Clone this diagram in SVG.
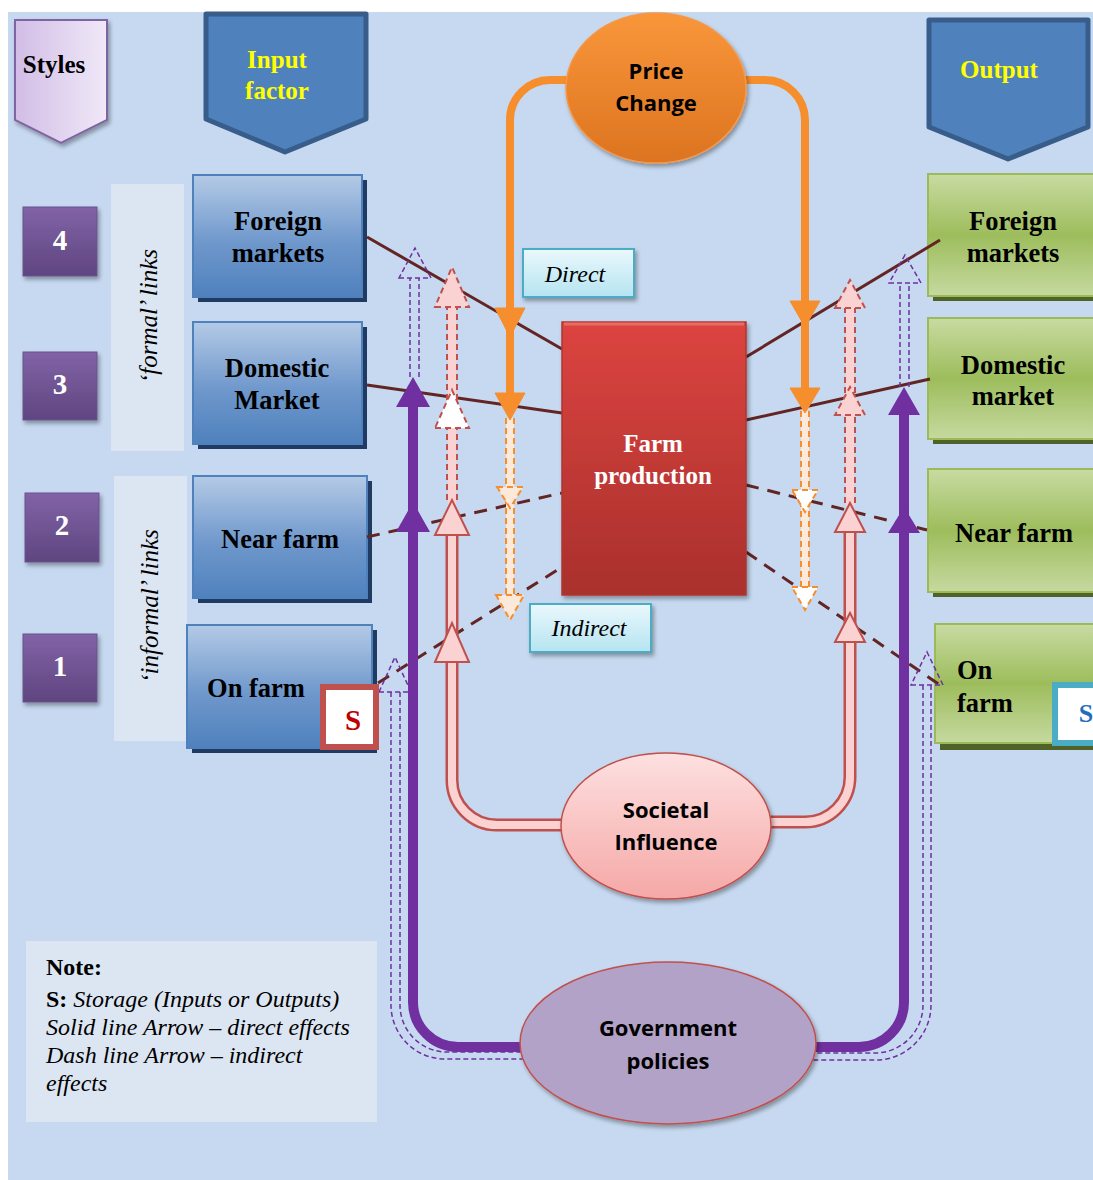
<svg xmlns="http://www.w3.org/2000/svg" width="1093" height="1180" viewBox="0 0 1093 1180">
  <defs>
    <linearGradient id="gStyles" x1="0" y1="0" x2="1" y2="0">
      <stop offset="0" stop-color="#d2bde6"/>
      <stop offset="1" stop-color="#f0e9f8"/>
    </linearGradient>
    <linearGradient id="gBlue" x1="0" y1="0" x2="0" y2="1">
      <stop offset="0" stop-color="#b4cae6"/>
      <stop offset="0.55" stop-color="#6f98cc"/>
      <stop offset="1" stop-color="#4f81bd"/>
    </linearGradient>
    <linearGradient id="gGreen" x1="0" y1="0" x2="0" y2="1">
      <stop offset="0" stop-color="#c8dba2"/>
      <stop offset="0.5" stop-color="#9dbd5c"/>
      <stop offset="1" stop-color="#c6d9a0"/>
    </linearGradient>
    <linearGradient id="gFarm" x1="0" y1="0" x2="0" y2="1">
      <stop offset="0" stop-color="#dc4440"/>
      <stop offset="1" stop-color="#a9302c"/>
    </linearGradient>
    <linearGradient id="gPrice" x1="0" y1="0" x2="0" y2="1">
      <stop offset="0" stop-color="#f9963a"/>
      <stop offset="1" stop-color="#dc7420"/>
    </linearGradient>
    <linearGradient id="gSoc" x1="0" y1="0" x2="0" y2="1">
      <stop offset="0" stop-color="#fde0e0"/>
      <stop offset="1" stop-color="#f5a8a6"/>
    </linearGradient>
    <linearGradient id="gNum" x1="0" y1="0" x2="0" y2="1">
      <stop offset="0" stop-color="#8163a6"/>
      <stop offset="1" stop-color="#5f4580"/>
    </linearGradient>
    <linearGradient id="gLabel" x1="0" y1="0" x2="0" y2="1">
      <stop offset="0" stop-color="#eaf8fc"/>
      <stop offset="1" stop-color="#b5e4f1"/>
    </linearGradient>
    <filter id="shadow" x="-20%" y="-20%" width="140%" height="140%">
      <feDropShadow dx="2" dy="3" stdDeviation="2" flood-color="#000" flood-opacity="0.35"/>
    </filter>
    <style>
      .serif { font-family: "Liberation Serif", "Times New Roman", serif; }
      .sans { font-family: "Open Sans", "Liberation Sans", sans-serif; font-weight: 700; }
      .lbl { font-family: "Liberation Serif", serif; font-weight: 700; font-size: 26.5px; fill: #000; text-anchor: middle; }
      .lbl.start { text-anchor: start; }
      .num { font-family: "Liberation Serif", serif; font-weight: 700; font-size: 29px; fill: #fff; text-anchor: middle; }
      .head { font-family: "Liberation Serif", serif; font-weight: 700; font-size: 25px; fill: #ffff00; text-anchor: middle; }
      .ital { font-family: "Liberation Serif", serif; font-style: italic; font-size: 24px; fill: #000; }
      .mid { text-anchor: middle; }
      .blueBox { fill: url(#gBlue); stroke: #4f81bd; stroke-width: 2; }
      .blueShade { fill: #1f3b64; }
      .greenBox { fill: url(#gGreen); stroke: #9bbb59; stroke-width: 2; }
      .greenShade { fill: #4f6228; }
      .numBox { fill: url(#gNum); stroke: #6a5290; stroke-width: 1; }
      .panel { fill: #dce6f2; }
      .tag { fill: url(#gLabel); stroke: #4bacc6; stroke-width: 2; }
      .brown { fill: none; stroke: #632523; stroke-width: 3; }
      .dashed { stroke-dasharray: 13 9; }
      .orange { fill: none; stroke: #f68e2e; stroke-width: 8; }
      .orangeHead { fill: #f68e2e; stroke: #f68e2e; stroke-width: 1; }
      .orangeFill { fill: none; stroke: #fde9d9; stroke-width: 8; }
      .orangeEdge { fill: none; stroke: #f68e2e; stroke-width: 2; stroke-dasharray: 6 4; }
      .orangeDHead { fill: #fde9d9; stroke: #f68e2e; stroke-width: 2; stroke-dasharray: 6 4; }
      .orangeDHead.white { fill: #ffffff; }
      .pinkOut { fill: none; stroke: #c0504d; stroke-width: 13; }
      .pinkIn { fill: none; stroke: #f9d2d1; stroke-width: 8; }
      .pinkHead { fill: #f9d2d1; stroke: #c0504d; stroke-width: 2; }
      .pinkEdge { fill: none; stroke: #c0504d; stroke-width: 2; stroke-dasharray: 6 4; }
      .pinkDHead { fill: #f9d2d1; stroke: #c0504d; stroke-width: 2; stroke-dasharray: 6 4; }
      .pinkDHead.white { fill: #ffffff; }
      .purple { fill: none; stroke: #7030a0; stroke-width: 10; }
      .purpleHead { fill: #7030a0; }
      .purpleD { fill: none; stroke: #7030a0; stroke-width: 1.5; stroke-dasharray: 5 3; }
    </style>
  </defs>

  <!-- page background -->
  <rect x="0" y="0" width="1093" height="1180" fill="#ffffff"/>
  <rect x="8" y="12" width="1085" height="1168" fill="#c6d9f0"/>

  <!-- side panels for the link types -->
  <g id="formal-links">
    <rect class="panel" x="111" y="184" width="73" height="267"/>
    <text class="ital mid" transform="translate(157 316) rotate(-90)" style="font-size:25px">‘formal’ links</text>
  </g>
  <g id="informal-links">
    <rect class="panel" x="114" y="476" width="73" height="265"/>
    <text class="ital mid" transform="translate(158 606) rotate(-90)" style="font-size:25px">‘informal’ links</text>
  </g>

  <!-- headers -->
  <g id="styles">
    <polygon points="15,20 107,20 107,120 61,143 15,120" fill="url(#gStyles)" stroke="#8064a2" stroke-width="2" filter="url(#shadow)"/>
    <text class="serif" x="54" y="73" font-size="25" font-weight="700" text-anchor="middle">Styles</text>
  </g>
  <g id="input-factor">
    <polygon points="206,14 366,14 366,119 285,152 206,119" fill="#4f81bd" stroke="#385d8a" stroke-width="5" stroke-linejoin="round"/>
    <text class="head" x="277" y="68">Input</text>
    <text class="head" x="277" y="99">factor</text>
  </g>
  <g id="output">
    <polygon points="929,20 1088,20 1088,127 1008,159 929,127" fill="#4f81bd" stroke="#385d8a" stroke-width="5" stroke-linejoin="round"/>
    <text class="head" x="999" y="78">Output</text>
  </g>

  <!-- level numbers -->
  <g id="level-4"><rect class="numBox" x="23" y="207" width="74" height="69" filter="url(#shadow)"/><text class="num" x="60" y="250">4</text></g>
  <g id="level-3"><rect class="numBox" x="23" y="352" width="74" height="68" filter="url(#shadow)"/><text class="num" x="60" y="394">3</text></g>
  <g id="level-2"><rect class="numBox" x="25" y="493" width="74" height="69" filter="url(#shadow)"/><text class="num" x="62" y="535">2</text></g>
  <g id="level-1"><rect class="numBox" x="23" y="634" width="74" height="68" filter="url(#shadow)"/><text class="num" x="60" y="676">1</text></g>

  <!-- input boxes -->
  <g id="in-foreign">
    <rect class="blueShade" x="198" y="180" width="169" height="122"/>
    <rect class="blueBox" x="193" y="175" width="169" height="122"/>
    <text class="lbl" x="278" y="230">Foreign</text>
    <text class="lbl" x="278" y="262">markets</text>
  </g>
  <g id="in-domestic">
    <rect class="blueShade" x="198" y="327" width="169" height="122"/>
    <rect class="blueBox" x="193" y="322" width="169" height="122"/>
    <text class="lbl" x="277" y="377">Domestic</text>
    <text class="lbl" x="277" y="409">Market</text>
  </g>
  <g id="in-near-farm">
    <rect class="blueShade" x="198" y="481" width="174" height="122"/>
    <rect class="blueBox" x="193" y="476" width="174" height="122"/>
    <text class="lbl" x="280" y="548">Near farm</text>
  </g>
  <g id="in-on-farm">
    <rect class="blueShade" x="192" y="630" width="185" height="123"/>
    <rect class="blueBox" x="187" y="625" width="185" height="123"/>
    <text class="lbl" x="256" y="697">On farm</text>
  </g>

  <!-- output boxes -->
  <g id="out-foreign">
    <rect class="greenShade" x="933" y="179" width="165" height="122"/>
    <rect class="greenBox" x="928" y="174" width="170" height="122"/>
    <text class="lbl" x="1013" y="230">Foreign</text>
    <text class="lbl" x="1013" y="262">markets</text>
  </g>
  <g id="out-domestic">
    <rect class="greenShade" x="933" y="323" width="165" height="121"/>
    <rect class="greenBox" x="928" y="318" width="170" height="121"/>
    <text class="lbl" x="1013" y="374">Domestic</text>
    <text class="lbl" x="1013" y="405">market</text>
  </g>
  <g id="out-near-farm">
    <rect class="greenShade" x="933" y="474" width="165" height="123"/>
    <rect class="greenBox" x="928" y="469" width="170" height="123"/>
    <text class="lbl" x="1014" y="542">Near farm</text>
  </g>
  <g id="out-on-farm">
    <rect class="greenShade" x="940" y="630" width="158" height="120"/>
    <rect class="greenBox" x="935" y="624" width="163" height="119"/>
    <text class="lbl start" x="957" y="679">On</text>
    <text class="lbl start" x="957" y="712">farm</text>
  </g>

  <!-- connectors -->
  <g id="connectors">
    <!-- links between market levels and farm production -->
    <path class="brown" d="M367 237 L562 349"/>
    <path class="brown" d="M367 385 L562 413"/>
    <path class="brown dashed" d="M367 537 L562 493"/>
    <path class="brown dashed" d="M378 683 L562 567"/>
    <path class="brown" d="M746 357 L940 240"/>
    <path class="brown" d="M746 420 L930 379"/>
    <path class="brown dashed" d="M746 485 L927 530"/>
    <path class="brown dashed" d="M746 552 L940 685"/>

    <!-- government policies: outer dashed loops -->
    <path class="purpleD" d="M391 692 V1005 A54 54 0 0 0 445 1059 H525"/>
    <path class="purpleD" d="M400 692 V1005 A47 47 0 0 0 447 1052 H525"/>
    <path class="purpleD" d="M923 685 V1005 A48 48 0 0 1 875 1053 H810"/>
    <path class="purpleD" d="M931 685 V1005 A55 55 0 0 1 876 1060 H810"/>
    <polygon class="purpleD" points="379,692 411,692 395,657"/>
    <polygon class="purpleD" points="911,685 943,685 927,652"/>

    <!-- government policies: solid loops -->
    <path class="purple" d="M560 1047 H458 A45 45 0 0 1 413 1002 V407"/>
    <path class="purple" d="M780 1047 H859 A45 45 0 0 0 904 1002 V415"/>
    <polygon class="purpleHead" points="396,532 430,532 413,502"/>
    <polygon class="purpleHead" points="396,407 430,407 413,377"/>
    <polygon class="purpleHead" points="888,533 920,533 904,507"/>
    <polygon class="purpleHead" points="888,415 920,415 904,387"/>
    <path class="purpleD" d="M410 377 V278 M419 377 V278"/>
    <polygon class="purpleD" points="399,278 431,278 415,248"/>
    <path class="purpleD" d="M900 387 V283 M909 387 V283"/>
    <polygon class="purpleD" points="889,283 921,283 905,255"/>

    <!-- societal influence loops -->
    <path class="pinkOut" d="M600 825 H497 A45 45 0 0 1 452 780 V535"/>
    <path class="pinkIn" d="M600 825 H497 A45 45 0 0 1 452 780 V535"/>
    <path class="pinkOut" d="M720 822 H805 A45 45 0 0 0 850 777 V532"/>
    <path class="pinkIn" d="M720 822 H805 A45 45 0 0 0 850 777 V532"/>
    <rect x="448" y="305" width="8" height="200" fill="#f9d2d1"/>
    <path class="pinkEdge" d="M447 500 V305 M457 500 V305"/>
    <rect x="846" y="306" width="8" height="200" fill="#f9d2d1"/>
    <path class="pinkEdge" d="M845 503 V306 M855 503 V306"/>
    <polygon class="pinkHead" points="435,662 469,662 452,623"/>
    <polygon class="pinkHead" points="435,535 469,535 452,500"/>
    <polygon class="pinkDHead white" points="435,428 469,428 452,390"/>
    <polygon class="pinkDHead" points="435,307 469,307 452,267"/>
    <polygon class="pinkHead" points="835,642 865,642 850,613"/>
    <polygon class="pinkHead" points="835,532 865,532 850,503"/>
    <polygon class="pinkDHead" points="835,415 865,415 850,387"/>
    <polygon class="pinkDHead" points="835,308 865,308 850,280"/>

    <!-- price change loops -->
    <path class="orange" d="M600 80 H550 A40 40 0 0 0 510 120 V395"/>
    <path class="orange" d="M710 80 H765 A40 40 0 0 1 805 120 V390"/>
    <path class="orangeFill" d="M510 418 V598"/>
    <path class="orangeEdge" d="M506 418 V598 M514 418 V598"/>
    <path class="orangeFill" d="M805 411 V590"/>
    <path class="orangeEdge" d="M801 411 V590 M809 411 V590"/>
    <polygon class="orangeHead" points="495,308 525,308 510,337"/>
    <polygon class="orangeHead" points="495,393 525,393 510,420"/>
    <polygon class="orangeHead" points="790,301 820,301 805,327"/>
    <polygon class="orangeHead" points="790,388 820,388 805,413"/>
    <polygon class="orangeDHead" points="497,487 523,487 510,508"/>
    <polygon class="orangeDHead" points="496,595 524,595 510,620"/>
    <polygon class="orangeDHead white" points="792,490 818,490 805,512"/>
    <polygon class="orangeDHead white" points="792,587 818,587 805,610"/>
  </g>

  <!-- storage markers -->
  <g id="storage-in">
    <rect x="323" y="687" width="53" height="60" fill="#ffffff" stroke="#c0504d" stroke-width="6"/>
    <text class="serif" x="353" y="730" font-size="29" font-weight="700" fill="#c00000" text-anchor="middle">S</text>
  </g>
  <g id="storage-out">
    <rect x="1055" y="685" width="45" height="58" fill="#ffffff" stroke="#4bacc6" stroke-width="6"/>
    <text class="serif" x="1086" y="722" font-size="26" font-weight="700" fill="#1f6fbf" text-anchor="middle">S</text>
  </g>

  <!-- central nodes -->
  <g id="price-change">
    <ellipse cx="656" cy="88" rx="90" ry="75" fill="url(#gPrice)" stroke="#f79646" stroke-width="1.5" filter="url(#shadow)"/>
    <text class="sans" x="656" y="79" font-size="22" text-anchor="middle">Price</text>
    <text class="sans" x="656" y="111" font-size="22" text-anchor="middle">Change</text>
  </g>
  <g id="farm-production">
    <rect x="562" y="322" width="184" height="273" fill="url(#gFarm)" stroke="#b03430" stroke-width="1.5" filter="url(#shadow)"/>
    <path d="M564 324 H744" stroke="#ea6a66" stroke-width="3"/>
    <text class="serif" x="653" y="452" font-size="25" font-weight="700" fill="#ffffff" text-anchor="middle">Farm</text>
    <text class="serif" x="653" y="484" font-size="25" font-weight="700" fill="#ffffff" text-anchor="middle">production</text>
  </g>
  <g id="societal-influence">
    <ellipse cx="666" cy="826" rx="105" ry="73" fill="url(#gSoc)" stroke="#c0504d" stroke-width="1.5" filter="url(#shadow)"/>
    <text class="sans" x="666" y="818" font-size="22" text-anchor="middle">Societal</text>
    <text class="sans" x="666" y="850" font-size="22" text-anchor="middle">Influence</text>
  </g>
  <g id="government-policies">
    <ellipse cx="668" cy="1043" rx="148" ry="81" fill="#b3a2c7" stroke="#c0504d" stroke-width="1.5" filter="url(#shadow)"/>
    <text class="sans" x="668" y="1036" font-size="22" text-anchor="middle">Government</text>
    <text class="sans" x="668" y="1069" font-size="22" text-anchor="middle">policies</text>
  </g>

  <!-- effect type tags -->
  <g id="tag-direct">
    <rect class="tag" x="523" y="249" width="111" height="48" filter="url(#shadow)"/>
    <text class="ital mid" x="575" y="282">Direct</text>
  </g>
  <g id="tag-indirect">
    <rect class="tag" x="530" y="604" width="121" height="48" filter="url(#shadow)"/>
    <text class="ital mid" x="589" y="636">Indirect</text>
  </g>

  <!-- legend -->
  <g id="note">
    <rect class="panel" x="26" y="941" width="351" height="181"/>
    <text class="serif" x="46" y="975" font-size="24" font-weight="700">Note:</text>
    <text class="ital" x="46" y="1007"><tspan font-style="normal" font-weight="700">S:</tspan> Storage (Inputs or Outputs)</text>
    <text class="ital" x="46" y="1035">Solid line Arrow – direct effects</text>
    <text class="ital" x="46" y="1063">Dash line Arrow – indirect</text>
    <text class="ital" x="46" y="1091">effects</text>
  </g>
</svg>
